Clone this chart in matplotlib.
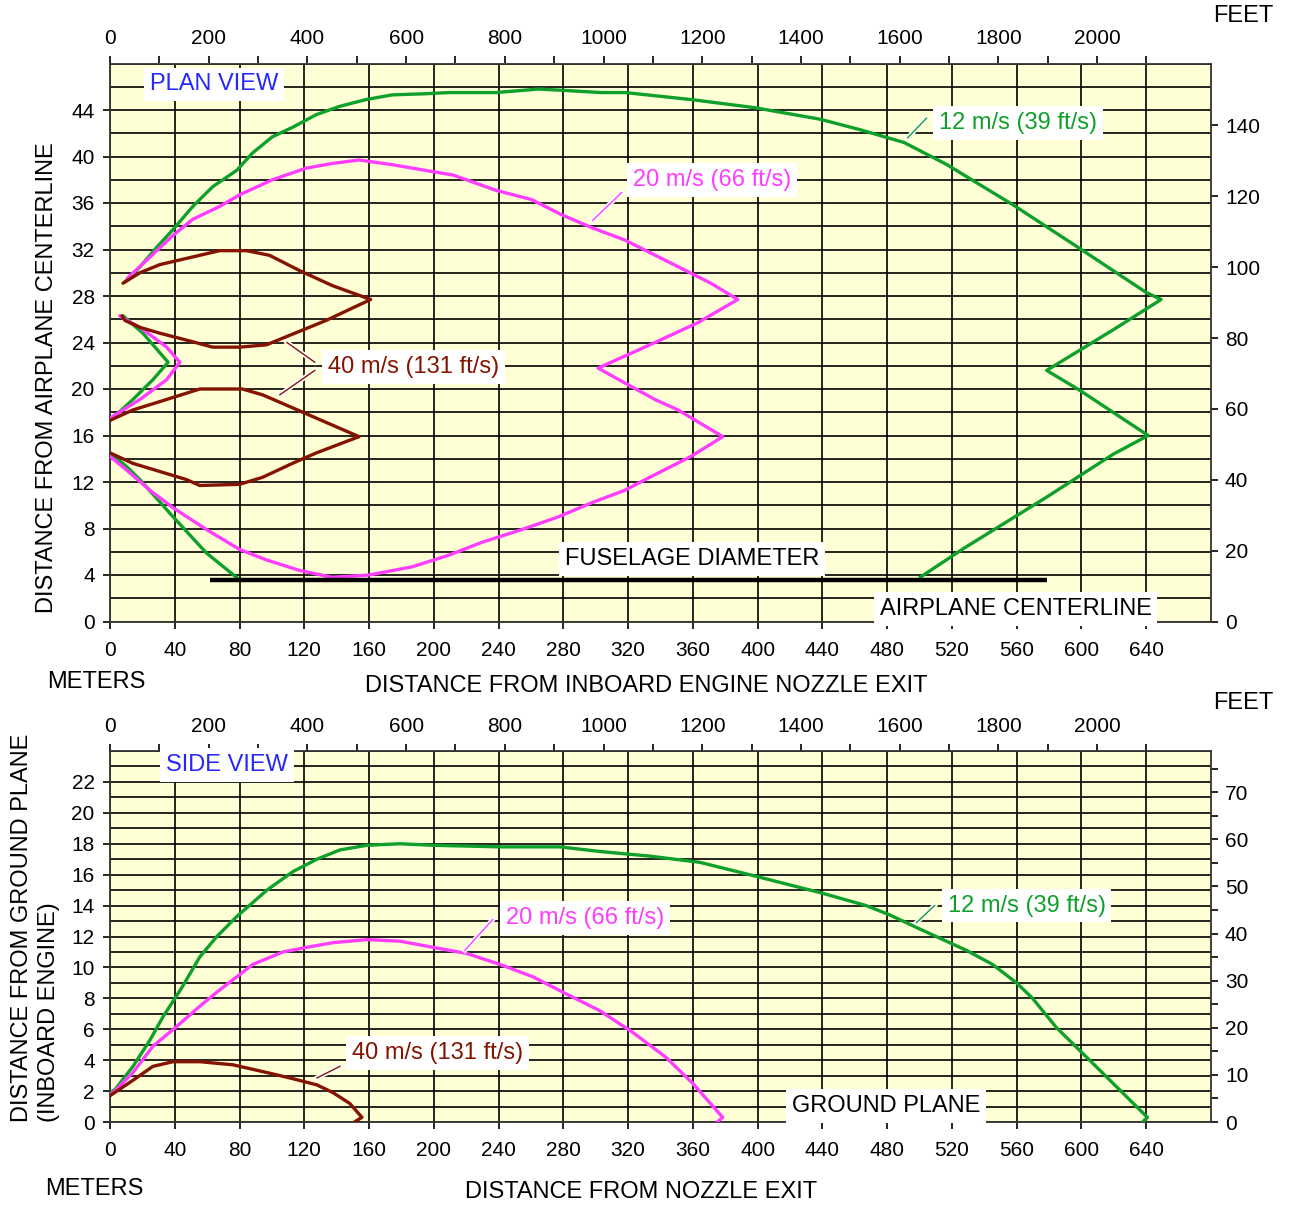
import numpy as np
import matplotlib
matplotlib.use('Agg')
import matplotlib.pyplot as plt
from matplotlib.ticker import MultipleLocator, FixedLocator
import matplotlib.patheffects as pe

plt.rcParams['font.family'] = ['Liberation Sans', 'DejaVu Sans']

# ---------------- data (meters) ----------------
# PLAN VIEW
plan12_outer_x = [9.2, 18.5, 28.9, 38.8, 51.1, 63.4, 78.2, 88.0, 100.3, 112.6, 127.4, 141.5, 158.2, 174.2,
                  195.1, 209.2, 238.2, 264.6, 278.8, 303.4, 318.2, 358.8, 398.2, 438.8, 463.4, 490.5, 516.9,
                  558.2, 598.8, 640.0, 649.2, 619.7, 578.5, 598.8, 641.2, 619.7, 578.5, 527.4, 500.3]
plan12_outer_y = [29.2, 30.5, 32.2, 33.7, 35.7, 37.4, 38.8, 40.3, 41.7, 42.5, 43.6, 44.3, 44.9, 45.3,
                  45.4, 45.5, 45.5, 45.8, 45.7, 45.5, 45.5, 44.9, 44.2, 43.2, 42.3, 41.2, 39.3,
                  35.8, 32.1, 28.3, 27.7, 25.1, 21.6, 19.9, 16.0, 14.4, 10.7, 6.3, 3.8]
plan12_notch_x = [0, 14.2, 26.5, 35.9, 20.3, 8.0]
plan12_notch_y = [17.3, 19.1, 20.8, 22.3, 24.8, 26.3]
plan12_lower_x = [0, 10.5, 18.5, 39.0, 59.5, 79.0]
plan12_lower_y = [14.5, 13.3, 12.2, 9.0, 5.9, 3.7]

plan20_outer_x = [10.5, 22.8, 38.8, 51.1, 67.7, 80, 100.3, 121.2, 137.2, 153.8, 174.2, 195.1, 212, 238.2,
                  260.3, 278.8, 297.2, 318.2, 356.9, 371.1, 387.7, 363, 336.6, 301.5, 318.2, 336.6, 350.8,
                  378.5, 358.8, 330.5, 318.2, 297.2, 276.9, 254.2, 229.5, 209.2, 186.5, 160, 137.2, 116.9,
                  96.6, 80, 59.7, 38.8, 24.6, 10.5, 0]
plan20_outer_y = [29.5, 31.1, 33.2, 34.6, 35.7, 36.7, 38.0, 39.0, 39.4, 39.7, 39.3, 38.8, 38.4, 37.1,
                  36.3, 35.0, 33.9, 32.8, 30.1, 29.1, 27.7, 25.7, 24.0, 21.8, 20.5, 19.1, 18.2,
                  15.9, 14.2, 12.2, 11.3, 10.2, 9.0, 7.9, 6.8, 5.7, 4.7, 4.0, 3.8, 4.4,
                  5.3, 6.2, 7.9, 9.8, 11.3, 13.0, 14.2]
plan20_notch_x = [0, 18.5, 35, 43.1, 35, 18.5, 10.5, 6]
plan20_notch_y = [17.5, 19.1, 20.8, 22.3, 23.6, 25.3, 25.9, 26.3]

plan40_upper_x = [8.0, 18.5, 30.8, 43.1, 55.4, 67.7, 84.3, 98.5, 116.9, 137.2, 161, 133.5, 108.9, 96.6,
                  80, 63.4, 47.4, 30.8, 18.5, 9.2, 7.4]
plan40_upper_y = [29.1, 30.0, 30.7, 31.1, 31.5, 31.9, 31.9, 31.5, 30.2, 28.9, 27.7, 25.9, 24.5, 23.8,
                  23.6, 23.6, 24.2, 24.8, 25.3, 25.9, 26.3]
plan40_lower_x = [0, 14.2, 35, 55.4, 81.8, 94.2, 110.8, 153.8, 127.4, 112.6, 94.2, 80, 55.4, 47.4, 30.8, 14.2, 0]
plan40_lower_y = [17.3, 18.2, 19.1, 20.0, 20.0, 19.5, 18.5, 15.9, 14.5, 13.6, 12.4, 11.8, 11.7, 12.2, 12.9, 13.6, 14.5]

fuselage_x = [61.5, 579.0]
fuselage_y = [3.6, 3.6]

# SIDE VIEW
side12_x = [0, 3.1, 14.2, 24.7, 32.7, 44.4, 55.6, 66, 78.4, 96.9, 113, 127.8, 142, 158.6, 179, 199.4,
            240.7, 277.8, 302.5, 333.3, 364.2, 395, 440, 467, 481.5, 501.9, 529, 545, 559.9, 569.8,
            584.6, 603.1, 625.3, 640.7, 637.7]
side12_y = [1.9, 2.1, 3.6, 5.3, 6.8, 8.7, 10.7, 12.0, 13.3, 15.0, 16.2, 17.0, 17.6, 17.9, 18.0, 17.9,
            17.8, 17.8, 17.5, 17.2, 16.8, 16.0, 14.8, 14.0, 13.4, 12.4, 11.1, 10.2, 9.0, 8.0,
            6.1, 4.2, 1.9, 0.3, 0.0]
side20_x = [0, 1.9, 14.2, 26.5, 41.4, 55.6, 66, 75.9, 88.3, 106.8, 121.6, 137.7, 158.6, 179, 199.4,
            220.4, 240.7, 261.1, 281.5, 302.5, 322.8, 343.2, 359.9, 378.4, 375]
side20_y = [1.8, 1.9, 3.2, 4.9, 6.2, 7.5, 8.4, 9.2, 10.2, 11.0, 11.3, 11.6, 11.8, 11.7, 11.3,
            10.9, 10.2, 9.4, 8.3, 7.2, 5.8, 4.2, 2.5, 0.3, 0.0]
side40_x = [0, 14.2, 26.5, 38.9, 55.6, 75.9, 96.9, 113, 127.8, 137.7, 148.1, 155.6, 151]
side40_y = [1.7, 2.7, 3.6, 3.9, 3.9, 3.7, 3.2, 2.8, 2.4, 1.9, 1.2, 0.3, 0.0]

labels = ["12 m/s (39 ft/s)", "20 m/s (66 ft/s)", "40 m/s (131 ft/s)"]

# ---------------- style ----------------
GREEN = '#0FA02C'
PINK = '#FF3DFF'
BROWN = '#841400'
BLUE = '#2626FF'
BG = '#FFFFD6'
M_PER_FT = 0.3048

W, H, DPI = 1290, 1206, 100
fig = plt.figure(figsize=(W / DPI, H / DPI), dpi=DPI)


def fx(px):
    return px / W


def fy(py):
    return 1 - py / H


TICK_FS = 15
TITLE_FS = 17


def make_axes(top, bottom, ymax, ymaj, ygrid, ftmaj, ftmin, ftmax_tick):
    ax = fig.add_axes([fx(110), fy(bottom), fx(1211) - fx(110), fy(top) - fy(bottom)])
    ax.set_facecolor(BG)
    ax.set_xlim(0, 680)
    ax.set_ylim(0, ymax)
    ax.set_xticks(np.arange(0, 641, 40))
    ax.set_yticks(np.arange(0, ymax - 1, ymaj))
    ax.yaxis.set_minor_locator(MultipleLocator(ygrid))
    ax.set_axisbelow(True)
    ax.grid(True, which='major', axis='x', color='black', lw=1.2)
    ax.grid(True, which='both', axis='y', color='black', lw=1.2)
    ax.tick_params(which='minor', length=0)
    ax.tick_params(axis='x', which='major', direction='out', length=5, width=1.2,
                   labelsize=TICK_FS, pad=9)
    ax.tick_params(axis='y', which='major', direction='out', length=5, width=1.2,
                   labelsize=TICK_FS, pad=6)
    for s in ax.spines.values():
        s.set_color('#333333')
        s.set_linewidth(1.3)

    sx = ax.secondary_xaxis('top', functions=(lambda m: m / M_PER_FT, lambda f: f * M_PER_FT))
    sx.xaxis.set_major_locator(FixedLocator(np.arange(0, 2001, 200)))
    sx.xaxis.set_minor_locator(FixedLocator(np.arange(100, 2201, 200)))
    sx.tick_params(which='both', direction='out', length=5, width=1.2, labelsize=TICK_FS, pad=6)
    sx.spines['top'].set_visible(False)

    sy = ax.secondary_yaxis('right', functions=(lambda m: m / M_PER_FT, lambda f: f * M_PER_FT))
    sy.yaxis.set_major_locator(FixedLocator(np.arange(0, ftmax_tick + 1, ftmaj)))
    if ftmin:
        sy.yaxis.set_minor_locator(FixedLocator(np.arange(ftmin, ftmax_tick + ftmaj, ftmaj)))
    sy.tick_params(which='both', direction='out', length=5, width=1.2, labelsize=TICK_FS, pad=5)
    sy.spines['right'].set_visible(False)
    return ax


def curve(ax, x, y, color):
    ax.plot(x, y, color=color, lw=2.4, solid_joinstyle='round', solid_capstyle='round', zorder=3)


def label(ax, x, y, text, color, fs=TITLE_FS):
    ax.text(x, y, text, color=color, fontsize=fs, ha='left', va='center', zorder=6,
            bbox=dict(boxstyle='square,pad=0.25', fc='white', ec='none'))


def leader(ax, x, y, color):
    ax.plot(x, y, color=color, lw=1.0, zorder=5,
            path_effects=[pe.Stroke(linewidth=3.5, foreground='white'), pe.Normal()])


# ---------------- PLAN VIEW ----------------
ax1 = make_axes(63.5, 621.5, 48, 4, 2, 20, None, 140)
curve(ax1, plan12_outer_x, plan12_outer_y, GREEN)
curve(ax1, plan12_notch_x, plan12_notch_y, GREEN)
curve(ax1, plan12_lower_x, plan12_lower_y, GREEN)
curve(ax1, plan20_outer_x, plan20_outer_y, PINK)
curve(ax1, plan20_notch_x, plan20_notch_y, PINK)
curve(ax1, plan40_upper_x, plan40_upper_y, BROWN)
curve(ax1, plan40_lower_x, plan40_lower_y, BROWN)
ax1.plot(fuselage_x, fuselage_y, color='black', lw=3.2, solid_capstyle='butt', zorder=4)

label(ax1, 24.7, 46.2, "PLAN VIEW", BLUE)
leader(ax1, [492.6, 504.3], [41.6, 43.3], GREEN)
label(ax1, 512, 42.9, labels[0], GREEN)
leader(ax1, [298.1, 316.0], [34.5, 36.9], PINK)
label(ax1, 322.8, 38.0, labels[1], PINK)
leader(ax1, [109.3, 126.5], [24.0, 22.3], BROWN)
leader(ax1, [104.9, 126.5], [19.5, 21.6], BROWN)
label(ax1, 134.6, 21.9, labels[2], BROWN)
label(ax1, 280.9, 5.4, "FUSELAGE DIAMETER", 'black')
label(ax1, 475.3, 1.1, "AIRPLANE CENTERLINE", 'black')

# ---------------- SIDE VIEW ----------------
ax2 = make_axes(751, 1122, 24, 2, 1, 10, 5, 70)
curve(ax2, side12_x, side12_y, GREEN)
curve(ax2, side20_x, side20_y, PINK)
curve(ax2, side40_x, side40_y, BROWN)

label(ax2, 34.6, 23.1, "SIDE VIEW", BLUE)
leader(ax2, [498.1, 509.3], [12.9, 14.0], GREEN)
label(ax2, 517.3, 14.0, labels[0], GREEN)
leader(ax2, [219.1, 236.4], [11.1, 13.1], PINK)
label(ax2, 244.4, 13.2, labels[1], PINK)
leader(ax2, [127.8, 142.0], [2.85, 3.6], BROWN)
label(ax2, 149.4, 4.47, labels[2], BROWN)
label(ax2, 421, 1.04, "GROUND PLANE", 'black')

# ---------------- outer texts ----------------
fig.text(fx(47), fy(682), "METERS", fontsize=TITLE_FS, ha='left', va='center')
fig.text(fx(646), fy(686), "DISTANCE FROM INBOARD ENGINE NOZZLE EXIT", fontsize=TITLE_FS,
         ha='center', va='center')
fig.text(fx(1213), fy(16), "FEET", fontsize=TITLE_FS, ha='left', va='center')
fig.text(fx(47.5), fy(378), "DISTANCE FROM AIRPLANE CENTERLINE", fontsize=TITLE_FS,
         rotation=90, ha='center', va='center')

fig.text(fx(45), fy(1189), "METERS", fontsize=TITLE_FS, ha='left', va='center')
fig.text(fx(641), fy(1192), "DISTANCE FROM NOZZLE EXIT", fontsize=TITLE_FS, ha='center', va='center')
fig.text(fx(1213), fy(703), "FEET", fontsize=TITLE_FS, ha='left', va='center')
fig.text(fx(22.5), fy(1122), "DISTANCE FROM GROUND PLANE", fontsize=TITLE_FS,
         rotation=90, ha='center', va='bottom')
fig.text(fx(49.5), fy(1122), "(INBOARD ENGINE)", fontsize=TITLE_FS,
         rotation=90, ha='center', va='bottom')

fig.savefig('out.png', dpi=DPI, facecolor='white')
